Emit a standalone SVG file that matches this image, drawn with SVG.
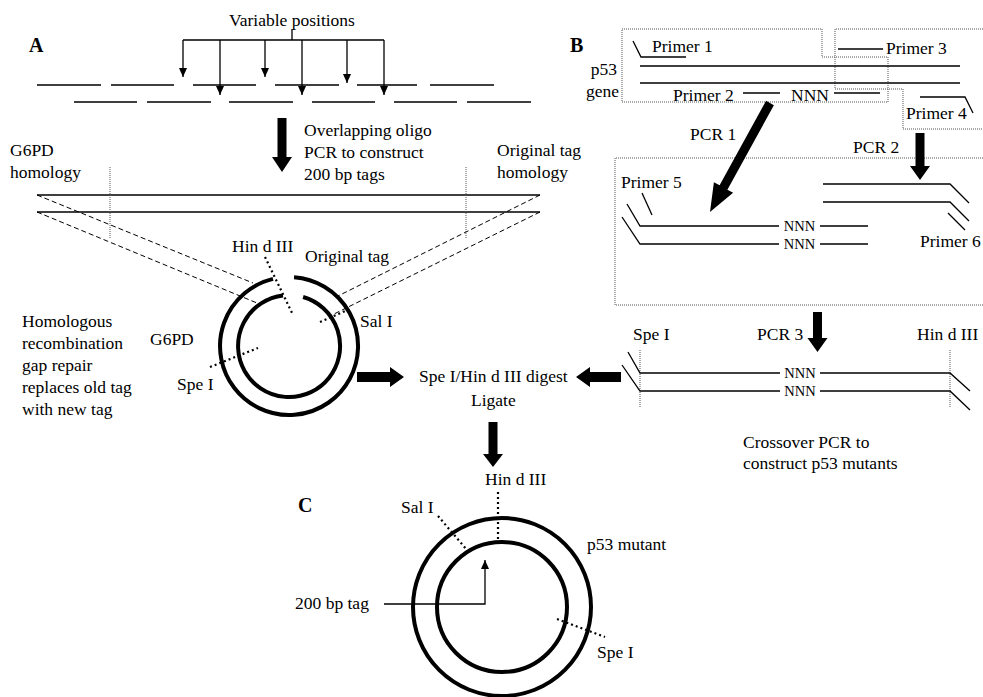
<svg xmlns="http://www.w3.org/2000/svg" width="983" height="697" viewBox="0 0 983 697">
<defs>
<style>
text{font-family:"Liberation Serif","Times New Roman",serif;font-size:17.5px;fill:#000}
text.nnn{font-size:14.5px}
.lbl{font-weight:bold;font-size:20px}
.ln{stroke:#000;stroke-width:1.3;fill:none}
.dash{stroke:#000;stroke-width:1;fill:none;stroke-dasharray:5 3}
.dot{stroke:#000;stroke-width:2.2;fill:none;stroke-dasharray:2 3}
.box{stroke:#555;stroke-width:1;fill:none;stroke-dasharray:1 1}
.vdot{stroke:#555;stroke-width:1;fill:none;stroke-dasharray:1 1}
.ring{stroke:#000;stroke-width:4;fill:none}
.thick{fill:#000;stroke:none}
</style>
<marker id="ah" markerUnits="userSpaceOnUse" markerWidth="10" markerHeight="8" refX="9" refY="4" orient="auto">
<path d="M0,0 L9,4 L0,8 z" fill="#000"/>
</marker>
</defs>
<rect width="983" height="697" fill="#fff"/>

<g id="panelA">
<text class="lbl" x="29" y="52">A</text>
<text x="292" y="26" text-anchor="middle">Variable positions</text>
<g id="oligos" class="ln">
<path d="M37,85H101M111,85H174M193,85H256M275,85H339M357,85H417M430,85H494"/>
<path d="M74,102H137M147,102H211M229,102H293M312,102H375M394,102H457M467,102H531"/>
</g>
<text x="304" y="136">Overlapping oligo</text>
<text x="304" y="158">PCR to construct</text>
<text x="304" y="180">200 bp tags</text>
<text x="10" y="156">G6PD</text>
<text x="10" y="178">homology</text>
<text x="497" y="156">Original tag</text>
<text x="497" y="178">homology</text>
<g id="tag" class="ln">
<path d="M37,195H540M37,212H540"/>
</g>
<path class="vdot" d="M110,167V238M466,167V238"/>
<g id="homology-lines" class="dash">
<path d="M37,195L253,283M37,212L257,303M540,195L338,296M540,212L330,316"/>
</g>
</g>

<g id="plasmidA">
<path class="ring" d="M294.05,277.19 A69,69 0 1 1 273,278.9"/>
<path class="ring" d="M303.1,297 A51,51 0 1 1 283,295.4"/>
<path class="dot" d="M265,257L293,315"/>
<path class="dot" d="M210,367L258,348"/>
<path class="dot" d="M320,322L352,308"/>
<text x="232" y="252">Hin d III</text>
<text x="305" y="262">Original tag</text>
<text x="360" y="327">Sal I</text>
<text x="150" y="345">G6PD</text>
<text x="177" y="390">Spe I</text>
<text x="22" y="327">Homologous</text>
<text x="22" y="349">recombination</text>
<text x="22" y="371">gap repair</text>
<text x="22" y="393">replaces old tag</text>
<text x="22" y="415">with new tag</text>
</g>

<g id="panelB">
<text class="lbl" x="570" y="52">B</text>
<text x="617" y="75" text-anchor="end">p53</text>
<text x="619" y="97" text-anchor="end">gene</text>
<path class="box" d="M622,29H822V57H888V102H622Z"/>
<path class="box" d="M983,29H835V89H903V129H983"/>
<path class="ln" d="M640,66H960M640,83H960"/>
<path class="ln" d="M633,41L641,57H686"/>
<text x="652" y="52">Primer 1</text>
<path class="ln" d="M838,49H883"/>
<text x="886" y="54">Primer 3</text>
<text x="673" y="101">Primer 2</text>
<path class="ln" d="M743,93H780"/>
<text x="791" y="101">NNN</text>
<path class="ln" d="M834,93H880"/>
<path class="ln" d="M920,97H965L973,113"/>
<text x="906" y="119">Primer 4</text>
<text x="690" y="140">PCR 1</text>
<text x="853" y="153">PCR 2</text>

<path class="box" d="M983,158H615V305H983"/>
<text x="621" y="188">Primer 5</text>
<path class="ln" d="M642,193L652,215"/>
<path class="ln" d="M627,204L640,226H779M820,226H868"/>
<path class="ln" d="M622,217L640,244H779M820,244H868"/>
<text class="nnn" x="799.5" y="231" text-anchor="middle">NNN</text>
<text class="nnn" x="799.5" y="249" text-anchor="middle">NNN</text>
<path class="ln" d="M823,184H950L969,203M823,202H950L969,221"/>
<path class="ln" d="M948,213L965,230"/>
<text x="920" y="247">Primer 6</text>

<text x="633" y="340">Spe I</text>
<text x="757" y="340">PCR 3</text>
<text x="917" y="340">Hin d III</text>
<path class="vdot" d="M640,350V408M950,350V408"/>
<path class="ln" d="M628,352L640,373H780M820,373H950L970,391"/>
<path class="ln" d="M622,365L640,391H780M820,391H950L970,410"/>
<text class="nnn" x="800" y="378" text-anchor="middle">NNN</text>
<text class="nnn" x="800" y="396" text-anchor="middle">NNN</text>
<text x="743" y="448">Crossover PCR to</text>
<text x="743" y="469">construct p53 mutants</text>
</g>

<g id="digest">
<text x="419" y="382">Spe I/Hin d III digest</text>
<text x="471" y="406">Ligate</text>
</g>

<g id="plasmidC">
<text class="lbl" x="298" y="512">C</text>
<circle class="ring" cx="502" cy="607" r="89"/>
<circle class="ring" cx="502" cy="607" r="65"/>
<text x="485" y="485">Hin d III</text>
<path class="dot" d="M498,492V542"/>
<text x="401" y="513">Sal I</text>
<path class="dot" d="M438,516L467,550"/>
<text x="587" y="550">p53 mutant</text>
<text x="295" y="609">200 bp tag</text>
<path class="dot" d="M557,619L605,637"/>
<text x="597" y="658">Spe I</text>
</g>

<g id="connectors">
<g class="ln" marker-end="url(#ah)">
<path d="M183,40V77"/>
<path d="M220,40V95"/>
<path d="M265,40V77"/>
<path d="M302,40V95"/>
<path d="M347,40V83"/>
<path d="M384,40V95"/>
<path d="M384,604H485V560"/>
</g>
<path class="ln" d="M292,29V40M183,40H384"/>
<polygon class="thick" points="277.5,118 286.5,118 286.5,157 292,157 282,172 272,157 277.5,157"/>
<polygon class="thick" points="773.9,105.2 727.4,189.7 733.1,192.8 710,212 713.9,182.2 719.6,185.3 766.1,100.8"/>
<polygon class="thick" points="915.5,133 924.5,133 924.5,166 930,166 920,180 910,166 915.5,166"/>
<polygon class="thick" points="813,312 822,312 822,338 827.5,338 817.5,352 807.5,338 813,338"/>
<polygon class="thick" points="357,372 390,372 390,367 404,377 390,387 390,382 357,382"/>
<polygon class="thick" points="621,372 590,372 590,367 576,377 590,387 590,382 621,382"/>
<polygon class="thick" points="488.5,422 497.5,422 497.5,454 503,454 493,467 483,454 488.5,454"/>
</g>
</svg>
